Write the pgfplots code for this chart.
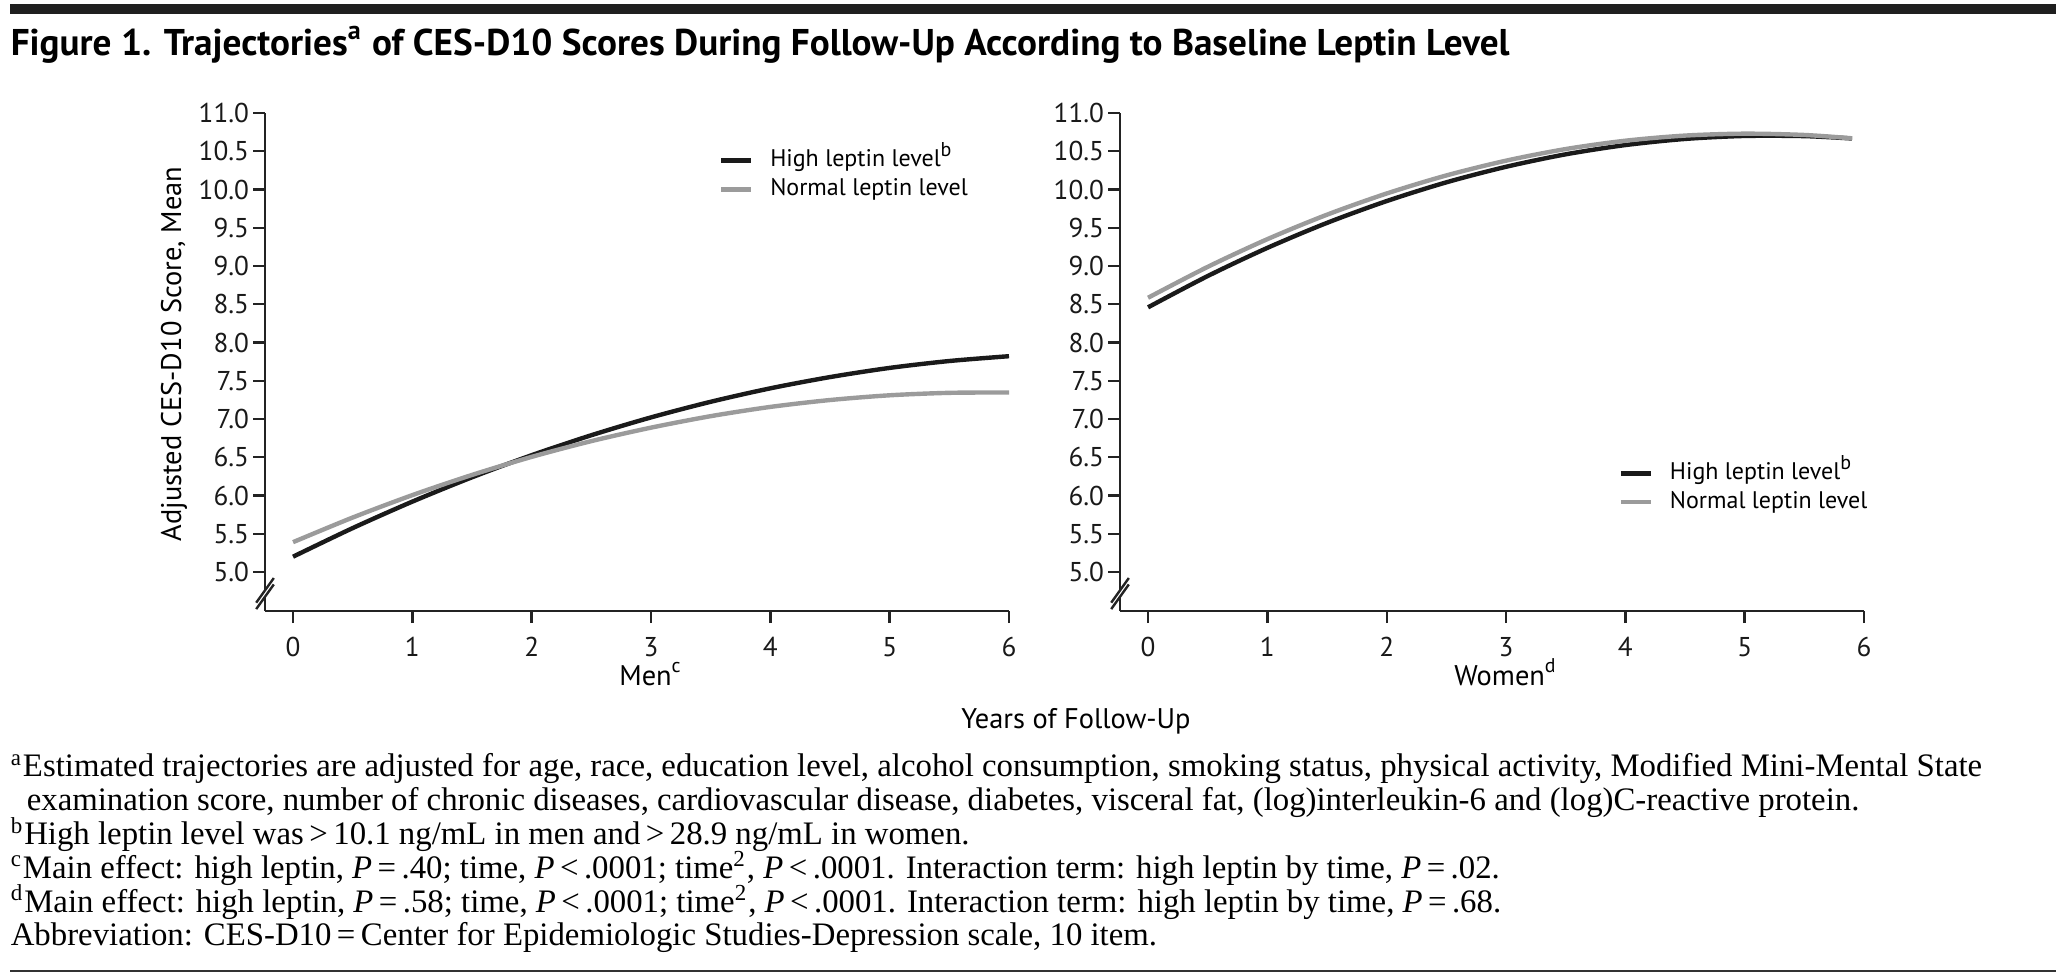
\documentclass[border=0pt]{standalone}
\usepackage{fontspec}
\setmainfont{Liberation Serif}
\setsansfont{PT Sans}
\usepackage{pgfplots}
\pgfplotsset{compat=1.18}
\usetikzlibrary{calc}

\definecolor{hiline}{RGB}{26,26,26}
\definecolor{noline}{RGB}{155,155,155}
\definecolor{axcol}{RGB}{35,35,35}

\newcommand\tickfont{\sffamily\fontsize{6.8}{7.5}\selectfont}
\newcommand\legfont{\sffamily\fontsize{6.0}{7}\selectfont}
\newcommand\labfont{\sffamily\fontsize{7.1}{8}\selectfont}
\newcommand\fnfont{\rmfamily\fontsize{8.2}{9}\selectfont}

% one panel = one axis, same frame for men and women
\pgfplotsset{
  panel/.style={
    scale only axis, width=186pt, height=124.5pt, anchor=south west,
    xmin=-0.235, xmax=6, ymin=4.49, ymax=11,
    axis x line=bottom, axis y line=left,
    axis line style={-, line width=0.7pt, axcol},
    xtick={0,1,2,3,4,5,6},
    ytick={5,5.5,6,6.5,7,7.5,8,8.5,9,9.5,10,10.5,11},
    tick align=outside, major tick length=3pt,
    tick style={line width=0.6pt, axcol},
    ticklabel style={font=\tickfont, text=black!90},
    yticklabel style={inner sep=0.8pt, /pgf/number format/.cd, fixed, fixed zerofill, precision=1},
    /pgf/number format/assume math mode=true,
    clip=false,
    legend cell align=left,
    legend image code/.code={\draw[##1, line width=1.15pt] (0pt,0pt) -- (7.5pt,0pt);},
    legend style={draw=none, fill=none, font=\legfont, anchor=north west,
      inner sep=0pt, row sep=0pt, column sep=3.6pt,
      nodes={inner sep=0.6pt, text height=4.6pt, text depth=1.4pt}},
  },
}

\newcommand\axisbreak[1]{%
  \fill[white] ($(#1.south west)+(0,4.36pt)+(-0.8pt,-2.0pt)$) -- ++(1.6pt,2.24pt) -- ++(0pt,1.6pt) -- ++(-1.6pt,-2.24pt) -- cycle;
  \draw[axcol, line width=0.6pt] ($(#1.south west)+(0,4.36pt)+(-2.2pt,-3.88pt)$) -- ++(4.4pt,6.16pt);
  \draw[axcol, line width=0.6pt] ($(#1.south west)+(0,4.36pt)+(-2.2pt,-2.28pt)$) -- ++(4.4pt,6.16pt);
}

\begin{document}
\begin{tikzpicture}
\path[use as bounding box] (0,0) rectangle (515.75pt,244pt);

% rules and title
\fill[black!88] (2.5pt,240.4pt) rectangle (514pt,243pt);
\fill[black!80] (2.5pt,0.9pt) rectangle (514pt,1.6pt);
\node[anchor=base west, inner sep=0pt, font=\sffamily\bfseries\fontsize{9.3}{10}\selectfont]
  at (2.5pt,230.2pt) {Figure 1. Trajectories\textsuperscript{a} of CES-D10 Scores During Follow-Up According to Baseline Leptin Level};

% Men
\begin{axis}[panel, name=L, at={(66.25pt,91.25pt)},
  legend style={at={(0.609,0.935)}}]
\addplot[hiline, line width=1.1pt, smooth] coordinates {
  (0,5.200) (0.5,5.574) (1,5.920) (1.5,6.238) (2,6.527) (2.5,6.788) (3,7.021)
  (3.5,7.225) (4,7.401) (4.5,7.548) (5,7.668) (5.5,7.758) (6,7.821)};
\addlegendentry{High leptin level\textsuperscript{b}}
\addplot[noline, line width=1.1pt, smooth] coordinates {
  (0,5.390) (0.5,5.712) (1,6.005) (1.5,6.269) (2,6.505) (2.5,6.711) (3,6.887)
  (3.5,7.037) (4,7.158) (4.5,7.248) (5,7.310) (5.5,7.342) (6,7.347)};
\addlegendentry{Normal leptin level}
\end{axis}

% Women
\begin{axis}[panel, name=R, at={(280pt,91.25pt)},
  legend style={at={(0.669,0.307)}}]
\addplot[hiline, line width=1.1pt, smooth] coordinates {
  (0,8.460) (0.5,8.869) (1,9.237) (1.5,9.564) (2,9.849) (2.5,10.094) (3,10.297)
  (3.5,10.460) (4,10.581) (4.5,10.661) (5,10.700) (5.5,10.698) (5.9,10.667)};
\addlegendentry{High leptin level\textsuperscript{b}}
\addplot[noline, line width=1.1pt, smooth] coordinates {
  (0,8.585) (0.5,8.989) (1,9.351) (1.5,9.671) (2,9.948) (2.5,10.184) (3,10.377)
  (3.5,10.529) (4,10.638) (4.5,10.705) (5,10.730) (5.5,10.713) (5.9,10.669)};
\addlegendentry{Normal leptin level}
\end{axis}

\axisbreak{L}
\axisbreak{R}

% labels
\node[rotate=90, font=\labfont] at (43.5pt,155.5pt) {Adjusted CES-D10 Score, Mean};
\node[anchor=base, font=\labfont] at (162.75pt,72.75pt) {Men\textsuperscript{c}};
\node[anchor=base, font=\labfont] at (376.5pt,72.75pt) {Women\textsuperscript{d}};
\node[anchor=base, font=\labfont] at (269pt,62pt) {Years of Follow-Up};

% footnotes
\begin{scope}[every node/.style={anchor=base west, inner sep=0pt, font=\fnfont}]
\node at (2.5pt,49.8pt) {\textsuperscript{a}Estimated trajectories are adjusted for age, race, education level, alcohol consumption, smoking status, physical activity, Modified Mini-Mental State};
\node at (6.5pt,41.35pt) {examination score, number of chronic diseases, cardiovascular disease, diabetes, visceral fat, (log)interleukin-6 and (log)C-reactive protein.};
\node at (2.5pt,32.9pt) {\textsuperscript{b}High leptin level was\,>\,10.1 ng/mL in men and\,>\,28.9 ng/mL in women.};
\node at (2.5pt,24.45pt) {\textsuperscript{c}Main effect: high leptin, \textit{P}\,=\,.40; time, \textit{P}\,<\,.0001; time\textsuperscript{2}, \textit{P}\,<\,.0001. Interaction term: high leptin by time, \textit{P}\,=\,.02.};
\node at (2.5pt,16pt) {\textsuperscript{d}Main effect: high leptin, \textit{P}\,=\,.58; time, \textit{P}\,<\,.0001; time\textsuperscript{2}, \textit{P}\,<\,.0001. Interaction term: high leptin by time, \textit{P}\,=\,.68.};
\node at (2.5pt,7.55pt) {Abbreviation: CES-D10\,=\,Center for Epidemiologic Studies-Depression scale, 10 item.};
\end{scope}
\end{tikzpicture}
\end{document}
